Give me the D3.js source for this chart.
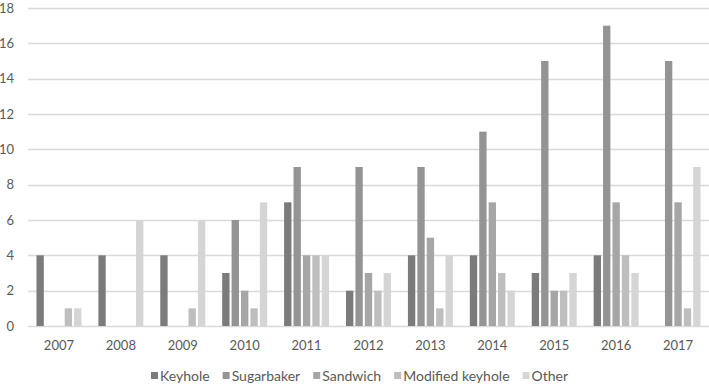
<!DOCTYPE html>
<html>
<head>
<meta charset="utf-8">
<script src="https://cdn.jsdelivr.net/npm/d3@7"></script>
<style>
  body { margin: 0; background: #fff; }
  svg { display: block; }
  text { font-family: Lato, "Open Sans", sans-serif; fill: #595959; }
</style>
</head>
<body>
<script>
const years = ["2007", "2008", "2009", "2010", "2011", "2012", "2013", "2014", "2015", "2016", "2017"];
const seriesNames = ["Keyhole", "Sugarbaker", "Sandwich", "Modified keyhole", "Other"];
const keyhole = [4, 4, 4, 3, 7, 2, 4, 4, 3, 4, 0];
const sugarbaker = [0, 0, 0, 6, 9, 9, 9, 11, 15, 17, 15];
const sandwich = [0, 0, 0, 2, 4, 3, 5, 7, 2, 7, 7];
const modifiedKeyhole = [1, 0, 1, 1, 4, 2, 1, 3, 2, 4, 1];
const other = [1, 6, 6, 7, 4, 3, 4, 2, 3, 3, 9];
const yTicks = [0, 2, 4, 6, 8, 10, 12, 14, 16, 18];

const colors = ["#7b7b7b", "#949494", "#a6a6a6", "#bebebe", "#d5d5d5"];
const values = [keyhole, sugarbaker, sandwich, modifiedKeyhole, other];

const w = 709, h = 385;
const margin = { top: 8, right: 0, bottom: 59, left: 28 };

const svg = d3.select("body").append("svg")
    .attr("width", w)
    .attr("height", h);

const x = d3.scaleBand()
    .domain(years)
    .range([margin.left, w - margin.right]);

const xInner = d3.scaleBand()
    .domain(seriesNames)
    .range([0, x.bandwidth()])
    .paddingOuter(0.9)
    .paddingInner(0.22);

const y = d3.scaleLinear()
    .domain([0, 18])
    .range([h - margin.bottom, margin.top]);

// gridlines
svg.append("g")
    .selectAll("line")
    .data(yTicks)
    .join("line")
    .attr("x1", margin.left)
    .attr("x2", w - margin.right)
    .attr("y1", d => Math.round(y(d)) + 0.5)
    .attr("y2", d => Math.round(y(d)) + 0.5)
    .attr("stroke", "#d9d9d9")
    .attr("stroke-width", 1.3);

// y labels
svg.append("g")
    .selectAll("text")
    .data(yTicks)
    .join("text")
    .attr("x", 14)
    .attr("y", d => y(d))
    .attr("dy", "0.35em")
    .attr("text-anchor", "end")
    .attr("font-size", 13)
    .text(d => d);

// bars
const groups = svg.append("g")
    .selectAll("g")
    .data(years)
    .join("g")
    .attr("transform", d => `translate(${x(d)},0)`);

groups.selectAll("rect")
    .data((d, i) => seriesNames.map((s, j) => ({ s, j, v: values[j][i] })))
    .join("rect")
    .filter(d => d.v > 0)
    .attr("x", d => xInner(d.s))
    .attr("width", xInner.bandwidth())
    .attr("y", d => y(d.v))
    .attr("height", d => y(0) - y(d.v))
    .attr("fill", d => colors[d.j]);

// x labels
svg.append("g")
    .selectAll("text")
    .data(years)
    .join("text")
    .attr("x", d => x(d) + x.bandwidth() / 2)
    .attr("y", 345)
    .attr("dy", "0.35em")
    .attr("text-anchor", "middle")
    .attr("font-size", 13)
    .text(d => d);

// legend
const legend = svg.append("g");
let lx = 151;
seriesNames.forEach((name, i) => {
    legend.append("rect")
        .attr("x", lx)
        .attr("y", 372)
        .attr("width", 7)
        .attr("height", 7)
        .attr("fill", colors[i]);
    const t = legend.append("text")
        .attr("x", lx + 9)
        .attr("y", 376)
        .attr("dy", "0.35em")
        .attr("font-size", 14)
        .text(name);
    lx += 9 + t.node().getComputedTextLength() + 13;
});
</script>
</body>
</html>
